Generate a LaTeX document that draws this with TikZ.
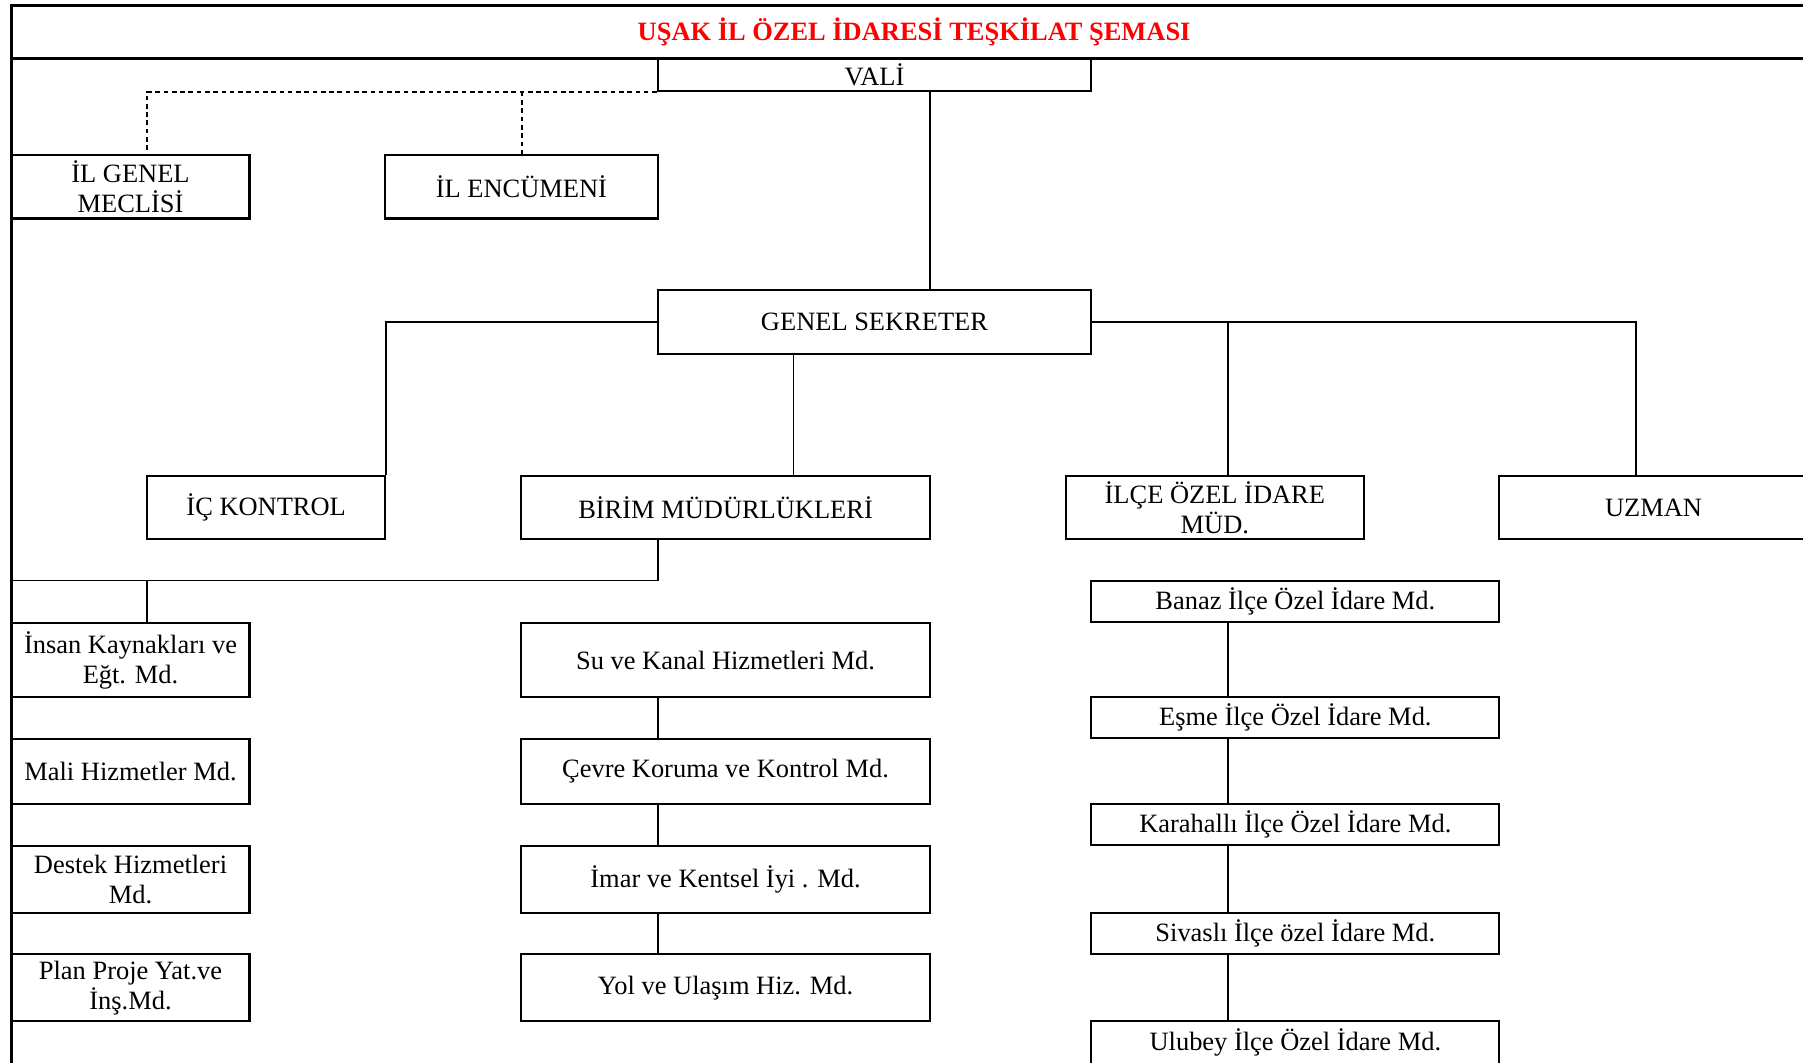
\documentclass[tikz,border=0pt]{standalone}
\usepackage{fontspec}
\setmainfont{Liberation Serif}
\begin{document}
\begin{tikzpicture}[x=0.5pt,y=-0.5pt,
  box/.style={draw, line width=0.9pt, inner sep=0pt, align=center, font=\fontsize{11.5}{13}\selectfont},
  conn/.style={line width=0.7pt},
  dashconn/.style={line width=0.6pt, dash pattern=on 2pt off 1.6pt},
  frame/.style={line width=1.1pt}]
\newcommand\mkbox[6]{\node[box, minimum width={(#4-#2)*0.5pt}, minimum height={(#5-#3)*0.5pt}] (#1) at ({(#2+#4)/2},{(#3+#5)/2}) {#6};}
\useasboundingbox (0,0) rectangle (1568,924);
\clip (0,0) rectangle (1568,924);
\fill[white] (0,0) rectangle (1568,924);
% frame
\draw[frame] (1570,5) -- (10,5) -- (10,930);
\draw[frame] (10,51) -- (1570,51);
\node[font=\fontsize{11.5}{13}\selectfont\bfseries, text=red, inner sep=0pt] (title) at (795,28) {UŞAK İL ÖZEL İDARESİ TEŞKİLAT ŞEMASI};
% boxes
\mkbox{vali}{572}{51}{949}{79}{VALİ}
\mkbox{meclis}{10}{135}{217}{190}{İL GENEL\\MECLİSİ}
\mkbox{encumen}{335}{135}{572}{190}{İL ENCÜMENİ}
\mkbox{gs}{572}{252}{949}{308}{GENEL SEKRETER}
\mkbox{ick}{128}{414}{335}{469}{İÇ KONTROL}
\mkbox{birim}{453}{414}{809}{469}{BİRİM MÜDÜRLÜKLERİ}
\mkbox{ilce}{927}{414}{1186}{469}{İLÇE ÖZEL İDARE\\MÜD.}
\mkbox{uzman}{1304}{414}{1572}{469}{UZMAN}
\mkbox{ik}{10}{542}{217}{606}{İnsan Kaynakları ve\\Eğt. Md.}
\mkbox{mali}{10}{643}{217}{699}{Mali Hizmetler Md.}
\mkbox{destek}{10}{736}{217}{794}{Destek Hizmetleri\\Md.}
\mkbox{plan}{10}{830}{217}{888}{Plan Proje Yat.ve\\İnş.Md.}
\mkbox{su}{453}{542}{809}{606}{Su ve Kanal Hizmetleri Md.}
\mkbox{cevre}{453}{643}{809}{699}{Çevre Koruma ve Kontrol Md.}
\mkbox{imar}{453}{736}{809}{794}{İmar ve Kentsel İyi . Md.}
\mkbox{yol}{453}{830}{809}{888}{Yol ve Ulaşım Hiz. Md.}
\mkbox{banaz}{949}{505}{1304}{541}{Banaz İlçe Özel İdare Md.}
\mkbox{esme}{949}{606}{1304}{642}{Eşme İlçe Özel İdare Md.}
\mkbox{kara}{949}{699}{1304}{735}{Karahallı İlçe Özel İdare Md.}
\mkbox{sivasli}{949}{794}{1304}{830}{Sivaslı İlçe özel İdare Md.}
\mkbox{ulubey}{949}{888}{1304}{926}{Ulubey İlçe Özel İdare Md.}
% guide coordinates
\coordinate (xm) at (128,0);
\coordinate (xe) at (454,0);
\coordinate (xv) at (809,0);
\coordinate (xb) at (690,0);
\coordinate (xi) at (1068,0);
\coordinate (xu) at (1423,0);
\coordinate (xl) at (572,0);
\coordinate (xf) at (10,0);
\coordinate (yb) at (0,505);
\coordinate (bl) at (xf |- yb);
% dashed links
\draw[dashconn] (vali.south west) -| (meclis.north -| xm);
\draw[dashconn] (vali.south west -| xe) -- (encumen.north -| xe);
% solid links
\draw[conn] (vali.south -| xv) -- (gs.north -| xv);
\draw[conn] (gs.west) -| (ick.north east);
\draw[conn] (gs.south -| xb) -- (birim.north -| xb);
\draw[conn] (gs.east) -| (ilce.north -| xi);
\draw[conn] (gs.east) -| (uzman.north -| xu);
\draw[conn] (birim.south -| xl) |- (bl);
\draw[conn] (yb -| xm) -- (ik.north -| xm);
\draw[conn] (su.south -| xl) -- (cevre.north -| xl);
\draw[conn] (cevre.south -| xl) -- (imar.north -| xl);
\draw[conn] (imar.south -| xl) -- (yol.north -| xl);
\draw[conn] (banaz.south -| xi) -- (esme.north -| xi);
\draw[conn] (esme.south -| xi) -- (kara.north -| xi);
\draw[conn] (kara.south -| xi) -- (sivasli.north -| xi);
\draw[conn] (sivasli.south -| xi) -- (ulubey.north -| xi);
\end{tikzpicture}
\end{document}
